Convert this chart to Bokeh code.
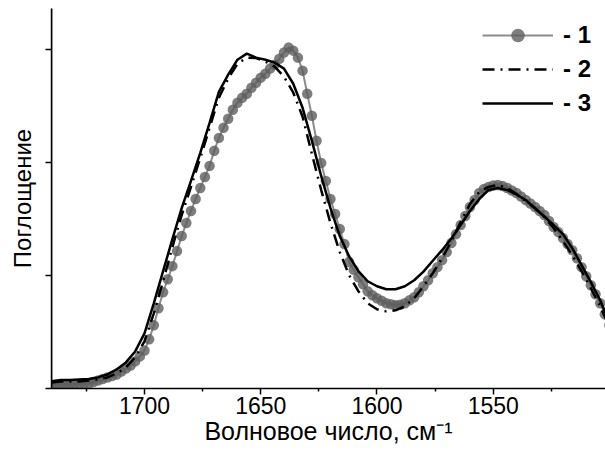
import numpy as np
from bokeh.plotting import figure
from bokeh.models import Range1d, FixedTicker, Legend, LegendItem, LinearAxis
from bokeh.embed import file_html
from bokeh.resources import INLINE

# ---- data ----
wn1 = np.arange(1740, 1499, -2)   # sampling grid of spectrum 1 (cm-1)
wn23 = np.arange(1740, 1499, -4)  # sampling grid of spectra 2, 3 (cm-1)

absorb1 = [
    0.035, 0.035, 0.035, 0.035, 0.035, 0.040, 0.040, 0.044, 0.044, 0.058,
    0.071, 0.084, 0.098, 0.111, 0.124, 0.151, 0.177, 0.204, 0.240, 0.284,
    0.337, 0.435, 0.559, 0.710, 0.852, 0.967, 1.083, 1.216, 1.349, 1.464,
    1.571, 1.677, 1.775, 1.872, 1.970, 2.103, 2.218, 2.307, 2.387, 2.467,
    2.529, 2.573, 2.609, 2.662, 2.706, 2.751, 2.786, 2.831, 2.866, 2.919,
    2.973, 3.017, 2.990, 2.928, 2.813, 2.609, 2.414, 2.192, 1.996, 1.837,
    1.677, 1.544, 1.411, 1.278, 1.120, 1.050, 0.985, 0.923, 0.861, 0.825,
    0.799, 0.776, 0.754, 0.745, 0.736, 0.741, 0.754, 0.781, 0.807, 0.852,
    0.905, 0.958, 1.020, 1.074, 1.136, 1.207, 1.287, 1.366, 1.446, 1.526,
    1.606, 1.668, 1.730, 1.766, 1.784, 1.797, 1.801, 1.792, 1.775, 1.752,
    1.730, 1.699, 1.668, 1.637, 1.606, 1.571, 1.535, 1.482, 1.429, 1.384,
    1.331, 1.278, 1.224, 1.153, 1.074, 0.994, 0.914, 0.834, 0.754, 0.657,
    0.559,
]

absorb2 = [
    0.053, 0.062, 0.062, 0.062, 0.071, 0.080, 0.098, 0.133, 0.186, 0.275,
    0.417, 0.665, 0.949, 1.251, 1.535, 1.784, 2.041, 2.307, 2.573, 2.742,
    2.875, 2.928, 2.924, 2.893, 2.848, 2.760, 2.618, 2.405, 2.076, 1.757,
    1.464, 1.207, 1.003, 0.861, 0.754, 0.701, 0.683, 0.692, 0.728, 0.799,
    0.905, 1.020, 1.153, 1.304, 1.473, 1.633, 1.739, 1.784, 1.801, 1.775,
    1.721, 1.659, 1.597, 1.517, 1.420, 1.304, 1.180, 1.038, 0.887, 0.728,
    0.541,
]

absorb3 = [
    0.062, 0.075, 0.075, 0.080, 0.084, 0.098, 0.124, 0.169, 0.231, 0.328,
    0.488, 0.754, 1.038, 1.322, 1.597, 1.837, 2.085, 2.351, 2.626, 2.777,
    2.910, 2.964, 2.928, 2.910, 2.884, 2.831, 2.697, 2.484, 2.192, 1.881,
    1.597, 1.349, 1.171, 1.038, 0.949, 0.905, 0.878, 0.878, 0.905, 0.958,
    1.034, 1.131, 1.224, 1.327, 1.446, 1.571, 1.677, 1.757, 1.775, 1.757,
    1.717, 1.668, 1.593, 1.522, 1.446, 1.366, 1.242, 1.091, 0.941, 0.781,
    0.586,
]

labels = ["- 1", "- 2", "- 3"]
x_major = [1700, 1650, 1600, 1550]
x_minor = [1725, 1675, 1625, 1575, 1525]
y_major = [0, 1, 2, 3]
y_minor = [0.5, 1.5, 2.5]

FONT = "Liberation Sans"

p = figure(width=605, height=450, output_backend="svg", toolbar_location=None,
           x_range=Range1d(1740, 1501.7), y_range=Range1d(0, 3.363),
           min_border_left=51, min_border_right=0, min_border_top=8,
           min_border_bottom=62)
p.outline_line_color = None
p.grid.visible = False
p.background_fill_color = "white"
p.border_fill_color = "white"

r1l = p.line(wn1, absorb1, line_color="#8c8c8c", line_width=2)
r1s = p.scatter(wn1, absorb1, size=10.5, fill_color="#5e5e5e", fill_alpha=0.8,
                line_color=None)
r2 = p.line(wn23, absorb2, line_color="black", line_width=2.5, line_dash="12 6 2 6")
r3 = p.line(wn23, absorb3, line_color="black", line_width=2.5)

# x axis
xa = p.xaxis[0]
xa.ticker = FixedTicker(ticks=x_major, minor_ticks=x_minor)
xa.axis_line_width = 1.5
xa.major_tick_line_width = 1.5
xa.minor_tick_line_width = 1.5
xa.major_tick_out = 6
xa.major_tick_in = 0
xa.minor_tick_out = 3
xa.minor_tick_in = 0
xa.major_label_text_font = FONT
xa.major_label_text_font_size = "23px"
xa.major_label_text_color = "black"
xa.major_label_standoff = 2
xa.axis_label = "Волновое число, см\u207b\u00b9"
xa.axis_label_text_font = FONT
xa.axis_label_text_font_size = "25px"
xa.axis_label_text_font_style = "normal"
xa.axis_label_text_color = "black"
xa.axis_label_standoff = 0

# y axis: long unlabeled ticks (whole units) + short ticks (half units)
ya = p.yaxis[0]
ya.ticker = FixedTicker(ticks=[], minor_ticks=y_major)
ya.axis_line_width = 1.5
ya.minor_tick_line_width = 1.5
ya.minor_tick_out = 6
ya.minor_tick_in = 0
ya.axis_label = "Поглощение"
ya.axis_label_text_font = FONT
ya.axis_label_text_font_size = "24px"
ya.axis_label_text_font_style = "normal"
ya.axis_label_text_color = "black"
ya.axis_label_standoff = 10

ya2 = LinearAxis(ticker=FixedTicker(ticks=[], minor_ticks=y_minor),
                 fixed_location=1740)
ya2.axis_line_width = 1.5
ya2.minor_tick_line_width = 1.5
ya2.minor_tick_out = 3
ya2.minor_tick_in = 0
p.add_layout(ya2, "left")

legend = Legend(items=[
    LegendItem(label=labels[0], renderers=[r1l, r1s]),
    LegendItem(label=labels[1], renderers=[r2]),
    LegendItem(label=labels[2], renderers=[r3]),
], location="top_right")
legend.margin = 0
legend.padding = 10
legend.spacing = 0
legend.glyph_width = 71
legend.glyph_height = 34
legend.label_height = 34
legend.label_width = 32
legend.label_standoff = 10
legend.label_text_font = FONT
legend.label_text_font_size = "24px"
legend.label_text_font_style = "bold"
legend.label_text_color = "black"
legend.border_line_alpha = 0
legend.background_fill_alpha = 0
p.add_layout(legend)

open("out.html", "w").write(file_html(p, INLINE))
